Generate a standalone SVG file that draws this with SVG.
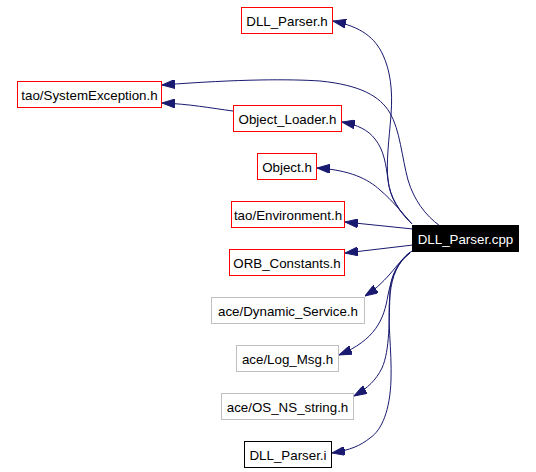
<svg xmlns="http://www.w3.org/2000/svg" width="536" height="472" viewBox="0 0 536 472">
<style>
.n rect{fill:#ffffff;stroke-width:1}
.red rect{stroke:#ff0000}
.grey rect{stroke:#bfbfbf}
.blk rect{stroke:#000000}
.n text{font-family:"Liberation Sans",Arial,sans-serif;font-size:13.33px;fill:#000000;text-anchor:middle}
.cur rect{fill:#000000;stroke:#000000}
.cur text{fill:#ffffff}
.e path{fill:none;stroke:#191970;stroke-width:1;marker-end:url(#ah)}
</style>
<defs>
<marker id="ah" markerUnits="userSpaceOnUse" markerWidth="13" markerHeight="9" viewBox="0 0 13 9" refX="13" refY="4.5" orient="auto">
<path d="M0,0 L13,4.5 L0,9 z" fill="#191970" stroke="#191970"/>
</marker>
</defs>
<rect width="536" height="472" fill="#ffffff"/>
<g id="edges" class="e">
<path d="M412,224 C398,210 390,198 388,180 C386,162 389,140 391,115 C393,90 390,70 383,55 C375,38 362,27 333,21"/>
<path d="M440,226 C425,215 414,200 408,180 C402,158 400,130 390,113 C380,96 360,85 320,81 C290,79 240,79 162,85"/>
<path d="M412,224 C400,212 390,198 388,180 C386,165 384,150 375,139 C368,130 358,125 342,122"/>
<path d="M412,224 C404,215 392,200 380,190 C368,179 350,170 317,168"/>
<path d="M413,229 L345,222"/>
<path d="M413,245 L345,253"/>
<path d="M412,251 C398,260 390,280 365,296"/>
<path d="M410,252 C398,262 392,275 388,295 C384,320 375,340 339,355"/>
<path d="M410,253 C398,262 391,275 390,290 C389,320 390,350 382,368 C376,380 368,388 354,396"/>
<path d="M410,253 C398,262 392,275 390,295 C387,320 392,350 391,380 C390,410 382,430 370,438 C360,446 350,450 332,453"/>
<path d="M233,111 C210,108 190,104 162,103"/>
</g>
<g id="n_dll_parser_h" class="n red"><rect x="241.5" y="7.5" width="91" height="26"/><text x="287" y="25.5">DLL_Parser.h</text></g>
<g id="n_system_exception" class="n red"><rect x="17.5" y="81.5" width="144" height="26"/><text x="89.5" y="99.5">tao/SystemException.h</text></g>
<g id="n_object_loader" class="n red"><rect x="233.5" y="105.5" width="108" height="26"/><text x="287.5" y="123.5">Object_Loader.h</text></g>
<g id="n_object_h" class="n red"><rect x="257.5" y="153.5" width="59" height="26"/><text x="287" y="171.5">Object.h</text></g>
<g id="n_environment" class="n red"><rect x="231.5" y="201.5" width="113" height="26"/><text x="288" y="219.5">tao/Environment.h</text></g>
<g id="n_dll_parser_cpp" class="n cur"><rect x="412.5" y="225.5" width="106" height="26"/><text x="465.5" y="243.5">DLL_Parser.cpp</text></g>
<g id="n_orb_constants" class="n red"><rect x="229.5" y="249.5" width="115" height="26"/><text x="287" y="267.5">ORB_Constants.h</text></g>
<g id="n_dynamic_service" class="n grey"><rect x="211.5" y="297.5" width="153" height="26"/><text x="288" y="315.5">ace/Dynamic_Service.h</text></g>
<g id="n_log_msg" class="n grey"><rect x="236.5" y="345.5" width="102" height="26"/><text x="287.5" y="363.5">ace/Log_Msg.h</text></g>
<g id="n_os_ns_string" class="n grey"><rect x="221.5" y="393.5" width="132" height="26"/><text x="287.5" y="411.5">ace/OS_NS_string.h</text></g>
<g id="n_dll_parser_i" class="n blk"><rect x="244.5" y="441.5" width="87" height="26"/><text x="288" y="459.5">DLL_Parser.i</text></g>
</svg>
